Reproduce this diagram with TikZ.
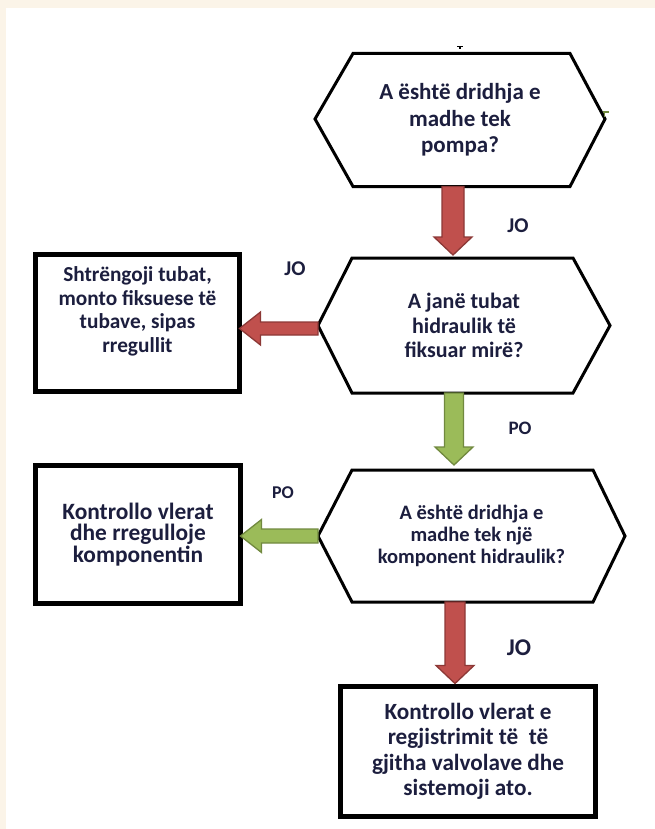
\documentclass[tikz,border=0pt]{standalone}
\usepackage{fontspec}
\setmainfont{Carlito}
\usetikzlibrary{calc}
\definecolor{cream}{RGB}{251,244,232}
\definecolor{txt}{RGB}{28,30,62}
\definecolor{redf}{RGB}{192,80,77}
\definecolor{redd}{RGB}{140,56,54}
\definecolor{grnf}{RGB}{155,187,89}
\definecolor{grnd}{RGB}{113,137,63}
% vertical block arrow: fill, draw, start, tip, shaft half width
\newcommand\vblock[5]{\filldraw[fill=#1,draw=#2,line width=1.3pt,line join=miter]
  let \p1=#3, \p2=#4 in
  (\x1-#5,\y1) -- (\x1+#5,\y1) -- (\x1+#5,\y2+18pt) -- (\x1+19pt,\y2+18pt) --
  (\x1,\y2) -- (\x1-19pt,\y2+18pt) -- (\x1-#5,\y2+18pt) -- cycle;}
% leftward block arrow: fill, draw, start, tip, shaft half height
\newcommand\hblock[5]{\filldraw[fill=#1,draw=#2,line width=1.3pt,line join=miter]
  let \p1=#3, \p2=#4 in
  (\x1,\y1+#5) -- (\x2+21pt,\y1+#5) -- (\x2+21pt,\y1+16.5pt) -- (\x2,\y1) --
  (\x2+21pt,\y1-16.5pt) -- (\x2+21pt,\y1-#5) -- (\x1,\y1-#5) -- cycle;}
\begin{document}
\begin{tikzpicture}[x=1pt,y=-1pt,
  hexbox/.style={rectangle,draw=none,inner sep=0pt,outer sep=0pt,align=center,text=txt},
  hexline/.style={draw=black,line width=3pt,line join=miter},
  boxnode/.style={rectangle,draw=black,line width=5pt,inner sep=0pt,outer sep=0pt,fill=white,align=center,text=txt},
  boxtext/.style={align=center,text=txt,inner sep=0pt},
  lbl/.style={text=txt,inner sep=0pt}]
\useasboundingbox (0,0) rectangle (655,829);
\fill[cream] (0,0) rectangle (655,829);
\fill[white] (6,8) rectangle (655,829);

% decision hexagons
\node[hexbox,minimum width=290pt,minimum height=133pt,
  font=\fontsize{23}{26.5}\selectfont\bfseries] (h1) at (460,120)
  {A është dridhja e\\madhe tek\\pompa?};
\draw[hexline] ([yshift=1pt]h1.west) -- ([xshift=38pt]h1.north west) -- ([xshift=-35pt]h1.north east)
  -- ([yshift=1pt]h1.east) -- ([xshift=-35pt]h1.south east) -- ([xshift=38pt]h1.south west) -- cycle;

\node[hexbox,minimum width=292pt,minimum height=135pt,
  font=\fontsize{22}{24.5}\selectfont\bfseries] (h2) at (464,325.5)
  {A janë tubat\\hidraulik të\\fiksuar mirë?};
\draw[hexline] (h2.west) -- ([xshift=34pt]h2.north west) -- ([xshift=-37pt]h2.north east)
  -- (h2.east) -- ([xshift=-37pt]h2.south east) -- ([xshift=34pt]h2.south west) -- cycle;

\node[hexbox,minimum width=307pt,minimum height=132pt,
  font=\fontsize{20.5}{22}\selectfont\bfseries] (h3) at (471.5,536)
  {A është dridhja e\\madhe tek një\\komponent hidraulik?};
\draw[hexline] (h3.west) -- ([xshift=34pt]h3.north west) -- ([xshift=-32pt]h3.north east)
  -- (h3.east) -- ([xshift=-32pt]h3.south east) -- ([xshift=34pt]h3.south west) -- cycle;

% action boxes
\node[boxnode,minimum width=204pt,minimum height=137pt] (b1) at (137.5,323) {};
\node[boxtext,anchor=north,font=\fontsize{21.3}{23.5}\selectfont\bfseries] (t1)
  at ([yshift=-12pt]b1.north) {Shtrëngoji tubat,\\monto fiksuese të\\tubave, sipas\\rregullit};

\node[boxnode,minimum width=205pt,minimum height=138pt,
  font=\fontsize{23.4}{21.7}\selectfont\bfseries] (b2) at (138,534.5)
  {Kontrollo vlerat\\dhe rregulloje\\komponentin};

\node[boxnode,minimum width=255pt,minimum height=130pt,
  font=\fontsize{23.2}{25.5}\selectfont\bfseries] (b3) at (468,751.5)
  {Kontrollo vlerat e\\regjistrimit të\ \ të\\gjitha valvolave dhe\\sistemoji ato.};

% connectors (block arrows)
\vblock{redf}{redd}{([xshift=-7pt]h1.south)}{([yshift=3pt]h2.north)}{11pt}
\vblock{grnf}{grnd}{([xshift=-10pt]h2.south)}{([yshift=5pt]h3.north)}{9.5pt}
\vblock{redf}{redd}{([xshift=-16.5pt]h3.south)}{([yshift=3pt]b3.north)}{10pt}
\hblock{redf}{redd}{([yshift=-3pt]h2.west)}{(b1.east)}{6.5pt}
\hblock{grnf}{grnd}{(h3.west)}{(b2.east)}{7pt}

% labels
\node[lbl,font=\fontsize{21}{24}\selectfont\bfseries] (l1) at (518,226) {JO};
\node[lbl,font=\fontsize{21}{24}\selectfont\bfseries] (l2) at (295,269) {JO};
\node[lbl,font=\fontsize{19}{22}\selectfont\bfseries] (l3) at (520,428) {PO};
\node[lbl,font=\fontsize{18}{21}\selectfont\bfseries] (l4) at (283,493) {PO};
\node[lbl,font=\fontsize{24}{27}\selectfont\bfseries] (l5) at (519,648) {JO};

% small marks
\draw[line width=1.2pt] (457,46.5) -- (463,46.5) (460,46.5) -- (460,49);
\draw[grnd,line width=1.3pt] (603,112) -- (609,112) (604.5,112) -- (604.5,117);
\end{tikzpicture}
\end{document}
